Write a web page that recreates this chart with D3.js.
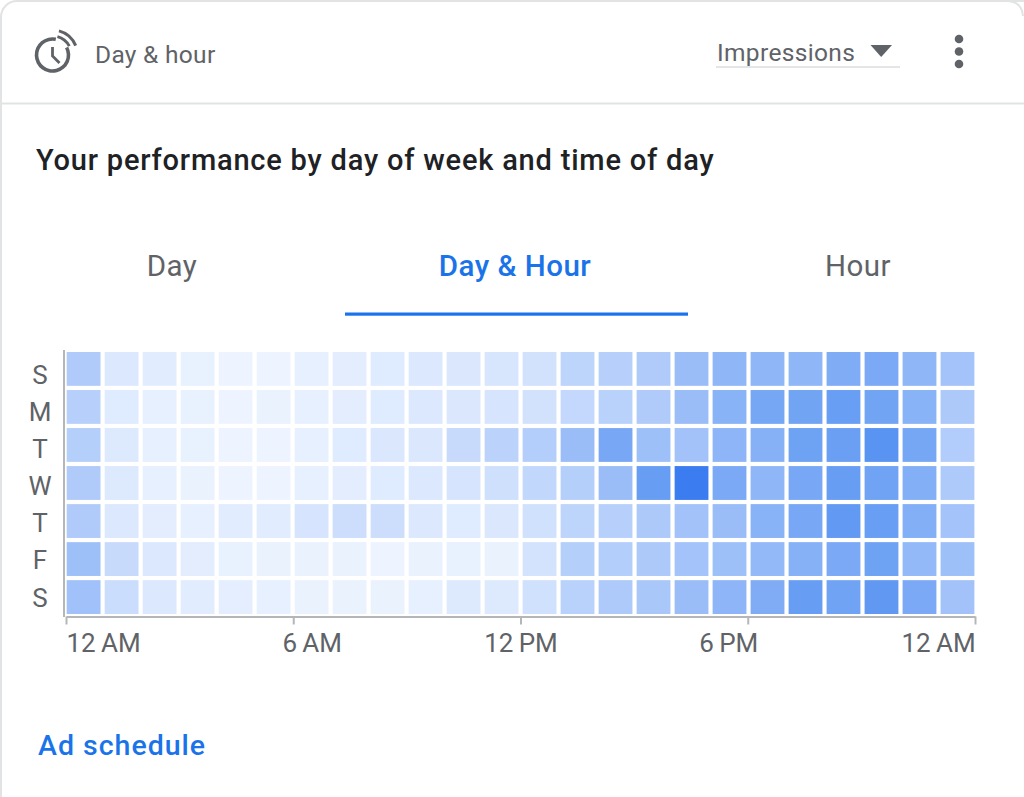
<!DOCTYPE html>
<html>
<head>
<meta charset="utf-8">
<script src="https://cdn.jsdelivr.net/npm/d3@7/dist/d3.min.js"></script>
<style>
  html, body { margin: 0; padding: 0; background: #fff; }
  svg { display: block; }
  text { font-family: Roboto, sans-serif; }
</style>
</head>
<body>
<svg id="card" width="1024" height="797"></svg>
<script>
// Weekly activity grid, rows run Sunday to Saturday, columns are hours from 12 AM
const dayLabels = ["S", "M", "T", "W", "T", "F", "S"];
const hourTicks = [0, 6, 12, 18, 24];
const hourTickLabels = ["12\u2009AM", "6\u2009AM", "12\u2009PM", "6\u2009PM", "12\u2009AM"];
const sunday    = [36,13,10, 6, 3, 3, 7, 9,11,13,14,15,18,29,32,36,47,52,52,52,60,62,52,42];
const monday    = [32,11, 7, 6, 3, 5, 7, 9,11,13,14,16,18,26,31,36,47,55,64,66,71,66,55,38];
const tuesday   = [33,12, 7, 6, 3, 3, 7,11,14,14,24,30,34,47,63,45,43,53,56,68,70,80,64,35];
const wednesday = [36,12, 7, 5, 3, 3, 7, 9,11,13,16,20,27,33,47,72,100,62,52,63,72,67,58,37];
const thursday  = [36,13, 9, 7,10,10,16,21,21,13,11,14,19,29,32,38,43,47,55,63,75,71,58,42];
const friday    = [45,24,13, 9, 6, 5, 5, 5, 3, 5, 6, 5,17,33,34,38,42,45,50,56,62,68,50,45];
const saturday  = [44,22,13,10, 8, 7, 5, 5, 5, 7,12,12,19,31,37,39,47,53,60,72,67,76,62,43];
const weekRows = [sunday, monday, tuesday, wednesday, thursday, friday, saturday];

const tabNames = ["Day", "Day & Hour", "Hour"];

const GREY = "#5f6368", BLUE = "#1a73e8", RULE = "#e2e3e4";
const svg = d3.select("#card");

// Card outline, its lower edge runs off the page
svg.append("rect").attr("x", 1).attr("y", 1).attr("width", 1040).attr("height", 830)
  .attr("rx", 16).attr("fill", "#fff").attr("stroke", RULE).attr("stroke-width", 2);
svg.append("rect").attr("x", 1023).attr("y", 16).attr("width", 1).attr("height", 781).attr("fill", "#fff");
svg.append("path").attr("d", "M1006,1 Q1022,1 1023,16").attr("fill", "none").attr("stroke", RULE).attr("stroke-width", 2);
svg.append("line").attr("x1", 1).attr("x2", 1024).attr("y1", 103.5).attr("y2", 103.5)
  .attr("stroke", RULE).attr("stroke-width", 2);

// Header icon: clock with signal arcs
const icon = svg.append("g").attr("transform", "translate(52.5,55)")
  .attr("fill", "none").attr("stroke", GREY).attr("stroke-linecap", "butt");
const deg = Math.PI / 180;
const ring = (r, a0, a1, w) => d3.arc()({ innerRadius: r - w / 2, outerRadius: r + w / 2, startAngle: a0 * deg, endAngle: a1 * deg });
icon.append("path").attr("d", ring(16, 62, 372, 3.6)).attr("fill", GREY).attr("stroke", "none");
icon.append("path").attr("d", ring(19, 15, 62, 3)).attr("fill", GREY).attr("stroke", "none");
icon.append("path").attr("d", ring(25, 15, 68, 3)).attr("fill", GREY).attr("stroke", "none");
icon.append("path").attr("d", "M0,-8V1L7,8").attr("stroke-width", 2.8);

svg.append("text").attr("x", 95).attr("y", 62.5).attr("font-size", 24.5).attr("letter-spacing", 0.3)
  .attr("fill", GREY).text("Day & hour");

// Metric dropdown
svg.append("text").attr("x", 717).attr("y", 60.5).attr("font-size", 24.5).attr("letter-spacing", 0.35)
  .attr("fill", GREY).text("Impressions");
svg.append("line").attr("x1", 716).attr("x2", 900).attr("y1", 67).attr("y2", 67).attr("stroke", "#e4e5e6").attr("stroke-width", 2);
svg.append("path").attr("d", "M870.5,45H892L881.2,57Z").attr("fill", GREY);
svg.selectAll("circle.menu").data([39, 51.5, 64]).join("circle").attr("class", "menu")
  .attr("cx", 959).attr("cy", d => d).attr("r", 4.3).attr("fill", GREY);

svg.append("text").attr("x", 36).attr("y", 170).attr("font-size", 29).attr("font-weight", 500)
  .attr("letter-spacing", 0.8).attr("fill", "#202124")
  .text("Your performance by day of week and time of day");

// Tab strip
const tabCentre = d3.scalePoint().domain(tabNames).range([172, 858]);
svg.selectAll("text.tab").data(tabNames).join("text").attr("class", "tab")
  .attr("x", d => tabCentre(d)).attr("y", 276).attr("text-anchor", "middle").attr("font-size", 29.5)
  .attr("letter-spacing", 0.5)
  .attr("font-weight", d => d === "Day & Hour" ? 500 : 400)
  .attr("fill", d => d === "Day & Hour" ? BLUE : GREY).text(d => d);
svg.append("rect").attr("x", 345).attr("y", 312.5).attr("width", 343).attr("height", 3.2).attr("fill", BLUE);

// Heatmap scales
const columns = d3.range(24);
const x = d3.scaleBand().domain(columns).range([66.7, 974.4]).paddingInner(0.11);
const y = d3.scaleBand().domain(d3.range(7)).range([352, 614]).paddingInner(0.11);
const colour = d3.scaleLinear().domain([0, 15, 40, 70, 100])
  .range(["#f3f8ff", "#d8e6fd", "#a8c6fa", "#6a9ff3", "#3b7df0"]);

svg.append("g").selectAll("g").data(weekRows).join("g")
  .attr("transform", (d, i) => `translate(0,${y(i)})`)
  .selectAll("rect").data(d => d).join("rect")
  .attr("x", (d, i) => x(i)).attr("width", x.bandwidth()).attr("height", y.bandwidth())
  .attr("fill", d => colour(d));

// Axes
const hourScale = d3.scaleLinear().domain([0, 24]).range([66, 975]);
const labelShift = [37, 18.5, 0, -19.5, -37];
const xAxis = svg.append("g").attr("transform", "translate(0,616.5)")
  .call(d3.axisBottom(hourScale).tickValues(hourTicks).tickFormat((d, i) => hourTickLabels[i]).tickSize(8).tickSizeOuter(0));
xAxis.select(".domain").attr("stroke", "#b4b6b8").attr("stroke-width", 2);
xAxis.selectAll(".tick line").attr("stroke", "#b4b6b8").attr("stroke-width", 2);
xAxis.selectAll(".tick text").attr("font-size", 26).attr("font-family", "Roboto, sans-serif").attr("fill", GREY)
  .attr("y", 17).attr("dy", "0.71em").attr("dx", (d, i) => labelShift[i]);

// Day initials sit on a slightly tighter pitch than the rows
const dayAxisScale = d3.scalePoint().domain(d3.range(7)).range([370.5, 593]);
const yAxis = svg.append("g").attr("transform", "translate(64,0)")
  .call(d3.axisLeft(dayAxisScale).tickFormat(i => dayLabels[i]).tickSize(0).tickPadding(13));
yAxis.select(".domain").attr("d", "M0,350V617").attr("stroke", "#b4b6b8").attr("stroke-width", 2);
yAxis.selectAll(".tick text").attr("font-size", 26).attr("font-family", "Roboto, sans-serif").attr("fill", GREY)
  .attr("text-anchor", "middle").attr("x", -24).attr("dy", "0.5em");

svg.append("text").attr("x", 38).attr("y", 755).attr("font-size", 28.5).attr("font-weight", 500)
  .attr("letter-spacing", 1).attr("fill", BLUE).text("Ad schedule");
</script>
</body>
</html>
